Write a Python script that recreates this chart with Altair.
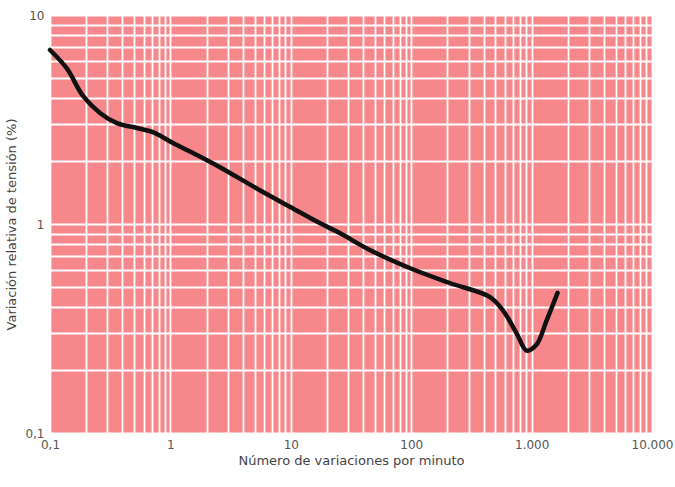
import altair as alt
import pandas as pd

# Curve values (variations per minute vs. relative voltage change %)
freq = [0.1, 0.138, 0.188, 0.26, 0.36, 0.527, 0.716, 1.05, 1.66, 2.58, 5.53, 9.82, 17.4, 25.5,
        45.3, 97, 209, 448, 574, 751, 910, 1100, 1331, 1643]
volt = [6.80, 5.55, 4.10, 3.40, 3.04, 2.88, 2.75, 2.44, 2.14, 1.87, 1.45, 1.21, 1.01, 0.905,
        0.751, 0.616, 0.522, 0.448, 0.388, 0.30, 0.248, 0.265, 0.345, 0.468]

x_labels = {0.1: "0,1", 1: "1", 10: "10", 100: "100", 1000: "1.000", 10000: "10.000"}
y_labels = {0.1: "0,1", 1: "1", 10: "10"}

x_grid = [m * 10 ** e for e in range(-1, 4) for m in range(1, 10)] + [10000]
y_grid = [m * 10 ** e for e in range(-1, 1) for m in range(1, 10)] + [10]

df = pd.DataFrame({"freq": freq, "volt": volt})

def label_expr(mapping):
    parts = " : ".join(
        f"abs(datum.value - {k}) < {k}*1e-6 ? '{v}'" for k, v in mapping.items()
    )
    return parts + " : ''"

x_enc = alt.X(
    "freq:Q",
    scale=alt.Scale(type="log", domain=[0.1, 10000], nice=False),
    axis=alt.Axis(
        values=x_grid, labelExpr=label_expr(x_labels), title="Número de variaciones por minuto",
        ticks=False, domain=False, grid=True, gridColor="white", gridWidth=1.8, gridOpacity=1,
        labelFont="DejaVu Sans", labelFontSize=12, labelColor="#555555", labelPadding=6,
        labelFlush=False, titleFont="DejaVu Sans", titleFontSize=13, titleFontWeight="normal",
        titleColor="#444444", titlePadding=4,
    ),
)
y_enc = alt.Y(
    "volt:Q",
    scale=alt.Scale(type="log", domain=[0.1, 10], nice=False),
    axis=alt.Axis(
        values=y_grid, labelExpr=label_expr(y_labels), title="Variación relativa de tensión (%)",
        ticks=False, domain=False, grid=True, gridColor="white", gridWidth=1.8, gridOpacity=1,
        labelFont="DejaVu Sans", labelFontSize=12, labelColor="#555555", labelPadding=6,
        labelFlush=False, titleFont="DejaVu Sans", titleFontSize=13, titleFontWeight="normal",
        titleColor="#444444", titlePadding=6,
    ),
)

chart = (
    alt.Chart(df)
    .mark_line(color="#111111", strokeWidth=4.5, interpolate="catmull-rom", strokeCap="round",
               strokeJoin="round")
    .encode(x=x_enc, y=y_enc)
    .properties(
        width=602, height=418,
        autosize=alt.AutoSizeParams(type="none"),
        padding={"left": 50, "top": 15, "right": 23, "bottom": 54},
        background="white",
    )
    .configure_view(fill="#F6888C", stroke=None)
)

chart.save("out.html", embed_options={"renderer": "svg", "actions": False})
